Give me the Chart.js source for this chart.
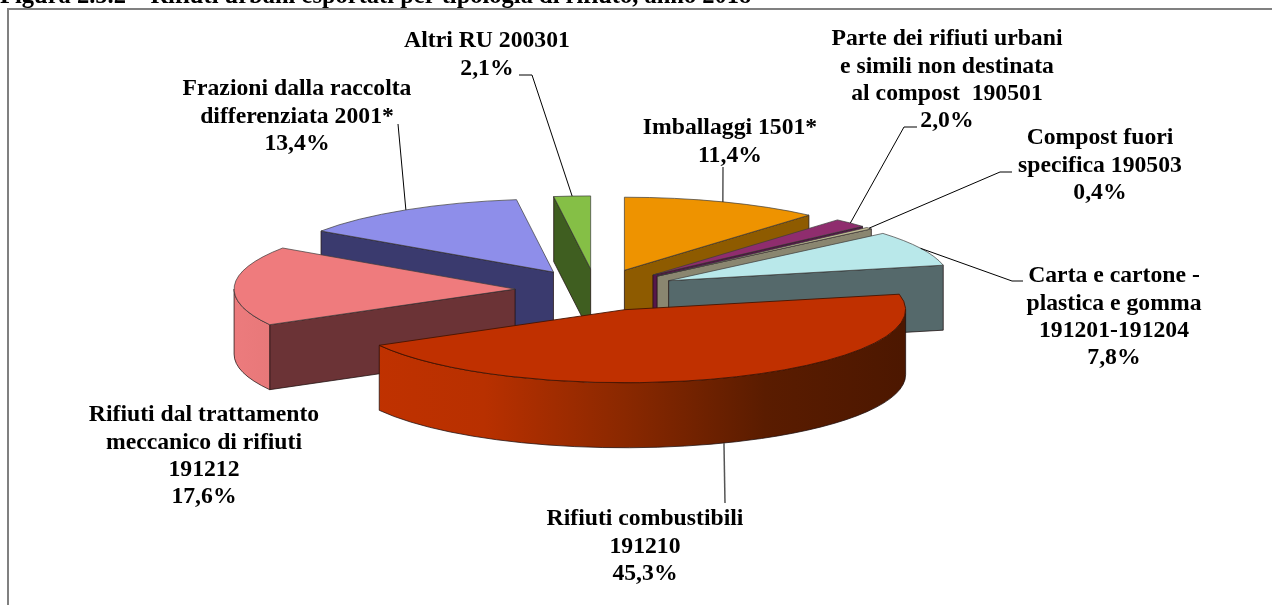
<!DOCTYPE html>
<html>
<head>
<meta charset="utf-8">
<title>Rifiuti urbani esportati</title>
<script src="https://cdn.jsdelivr.net/npm/chart.js@4/dist/chart.umd.min.js"></script>
<style>
  html, body { margin: 0; padding: 0; background: #fff; overflow: hidden; }
  canvas { display: block; }
</style>
</head>
<body>
<canvas id="grafica" width="1272" height="605"></canvas>
<script>
// dati
const categorie = ['Imballaggi 1501*', 'Parte 190501', 'Compost 190503', 'Carta 191201-191204',
  'Combustibili 191210', 'Trattamento 191212', 'Frazioni 2001*', 'Altri RU 200301'];
const valori = [11.4, 2.0, 0.4, 7.8, 45.3, 17.6, 13.4, 2.1];
const etichette = [
  ['Imballaggi 1501*'],
  ['Parte dei rifiuti urbani', 'e simili non destinata', 'al compost  190501'],
  ['Compost fuori', 'specifica 190503'],
  ['Carta e cartone -', 'plastica e gomma', '191201-191204'],
  ['Rifiuti combustibili', '191210'],
  ['Rifiuti dal trattamento', 'meccanico di rifiuti', '191212'],
  ['Frazioni dalla raccolta', 'differenziata 2001*'],
  ['Altri RU 200301']
];
const titolo = 'Figura 2.5.2 \u2013 Rifiuti urbani esportati per tipologia di rifiuto, anno 2018';

// colori
const coloriSopra = ['#EE9300', '#8F2D6E', '#C4BC96', '#B9E8EA', '#C03000', '#EF7B7D', '#8E8EEA', '#85BF46'];
const coloriLato = ['#8E5B00', '#55174A', '#8A8670', '#55696B', '#5A1C00', '#6B3336', '#3A3A6E', '#3F5E20'];
const sfumature = {
  4: ['#C23200', '#B83000', '#8A2800', '#5A1C00', '#4C1700'],
  5: ['#EC7B7D', '#E87879']
};

// geometria della torta 3D
const CX = 596, CY = 290, RAGGIO = 281, TILT = 0.26, ESPLOSO = 81, SPESSORE = 65;
const ordine = [7, 6, 0, 1, 2, 3, 5, 4];

// posizione del centro delle righe di testo
const posEtichette = [[730, 128], [947, 39], [1100, 138], [1114, 276], [645, 519], [204, 415], [297, 89], [487, 41]];
const guide = [
  [[723, 167]],
  [[917, 127], [904, 127]],
  [[1012, 172], [1000, 172]],
  [[1023, 281], [1012, 281]],
  [[725, 503]],
  null,
  [[398, 124]],
  [[519, 75], [532, 75]]
];
const INTERLINEA = 27.4;
const FONT_ETICHETTE = 'bold 23.7px "Liberation Serif"';

function centroFetta(arc) {
  const mid = (arc.startAngle + arc.endAngle) / 2;
  return {
    x: CX + Math.cos(mid) * ESPLOSO,
    y: CY + Math.sin(mid) * ESPLOSO * TILT
  };
}

function disegnaLati(ctx, arc, i) {
  const c = centroFetta(arc);
  const r = arc.outerRadius;
  const ry = r * TILT;
  ctx.strokeStyle = 'rgba(30,15,15,0.75)';
  ctx.lineWidth = 1;

  // facce radiali visibili
  [[arc.startAngle, -1], [arc.endAngle, 1]].forEach(([a, segno]) => {
    if (Math.cos(a) * segno <= 0.001) return;
    const px = c.x + Math.cos(a) * r;
    const py = c.y + Math.sin(a) * ry;
    ctx.beginPath();
    ctx.moveTo(c.x, c.y);
    ctx.lineTo(px, py);
    ctx.lineTo(px, py + SPESSORE);
    ctx.lineTo(c.x, c.y + SPESSORE);
    ctx.closePath();
    ctx.fillStyle = coloriLato[i];
    ctx.fill();
    ctx.stroke();
  });

  // parete esterna, solo la parte davanti
  const a0 = Math.max(arc.startAngle, 0);
  const a1 = Math.min(arc.endAngle, Math.PI);
  if (a1 > a0) {
    ctx.beginPath();
    ctx.ellipse(c.x, c.y, r, ry, 0, a0, a1);
    ctx.ellipse(c.x, c.y + SPESSORE, r, ry, 0, a1, a0, true);
    ctx.closePath();
    if (sfumature[i]) {
      const g = ctx.createLinearGradient(c.x - r, 0, i === 4 ? c.x + r : c.x + Math.cos(a0) * r, 0);
      sfumature[i].forEach((col, k) => g.addColorStop(k / (sfumature[i].length - 1), col));
      ctx.fillStyle = g;
    } else {
      ctx.fillStyle = coloriLato[i];
    }
    ctx.fill();
    ctx.stroke();
  }
}

function disegnaSopra(ctx, arc, i) {
  const c = centroFetta(arc);
  ctx.save();
  ctx.translate(c.x, c.y);
  ctx.scale(1, TILT);
  ctx.translate(-arc.x, -arc.y);
  arc.draw(ctx);
  ctx.restore();

  ctx.beginPath();
  ctx.moveTo(c.x, c.y);
  ctx.ellipse(c.x, c.y, arc.outerRadius, arc.outerRadius * TILT, 0, arc.startAngle, arc.endAngle);
  ctx.closePath();
  ctx.strokeStyle = i === 4 ? 'rgba(70,20,0,0.9)' : 'rgba(60,60,60,0.7)';
  ctx.lineWidth = 1;
  ctx.stroke();
}

const tortaPlugin = {
  id: 'torta3d',
  beforeDatasetDraw(chart, args) {
    const ctx = chart.ctx;
    const arcs = args.meta.data;
    ordine.forEach(i => {
      disegnaLati(ctx, arcs[i], i);
      disegnaSopra(ctx, arcs[i], i);
    });
    return false;
  },
  afterDraw(chart) {
    const ctx = chart.ctx;
    const arcs = chart.getDatasetMeta(0).data;

    // cornice
    ctx.fillStyle = '#808080';
    ctx.fillRect(7, 8, 1265, 2);
    ctx.fillRect(7, 8, 2, 597);

    // titolo tagliato in alto
    ctx.fillStyle = '#000';
    ctx.textAlign = 'left';
    ctx.textBaseline = 'alphabetic';
    ctx.font = 'bold 24.5px "Liberation Serif"';
    ctx.fillText(titolo, 0, 3);

    // linee guida
    guide.forEach((punti, i) => {
      if (!punti) return;
      const c = centroFetta(arcs[i]);
      const mid = (arcs[i].startAngle + arcs[i].endAngle) / 2;
      const sinMid = Math.sin(mid);
      const ex = c.x + Math.cos(mid) * RAGGIO;
      const ey = c.y + sinMid * RAGGIO * TILT + (sinMid > 0 ? SPESSORE : 0);
      ctx.beginPath();
      ctx.moveTo(punti[0][0], punti[0][1]);
      punti.slice(1).forEach(p => ctx.lineTo(p[0], p[1]));
      ctx.lineTo(ex, ey);
      ctx.strokeStyle = i === 4 ? '#555' : '#000';
      ctx.lineWidth = i === 4 ? 1.5 : 1;
      ctx.stroke();
    });

    // etichette
    ctx.font = FONT_ETICHETTE;
    ctx.textAlign = 'center';
    ctx.textBaseline = 'middle';
    ctx.fillStyle = '#000';
    etichette.forEach((righe, i) => {
      const tutte = righe.concat(valori[i].toFixed(1).replace('.', ',') + '%');
      tutte.forEach((riga, k) => {
        ctx.fillText(riga, posEtichette[i][0], posEtichette[i][1] + k * INTERLINEA);
      });
    });
  }
};

new Chart(document.getElementById('grafica'), {
  type: 'pie',
  data: {
    labels: categorie,
    datasets: [{
      data: valori,
      backgroundColor: coloriSopra,
      borderWidth: 0
    }]
  },
  options: {
    responsive: false,
    animation: false,
    radius: RAGGIO,
    plugins: {
      legend: { display: false },
      tooltip: { enabled: false }
    }
  },
  plugins: [tortaPlugin]
});
</script>
</body>
</html>
